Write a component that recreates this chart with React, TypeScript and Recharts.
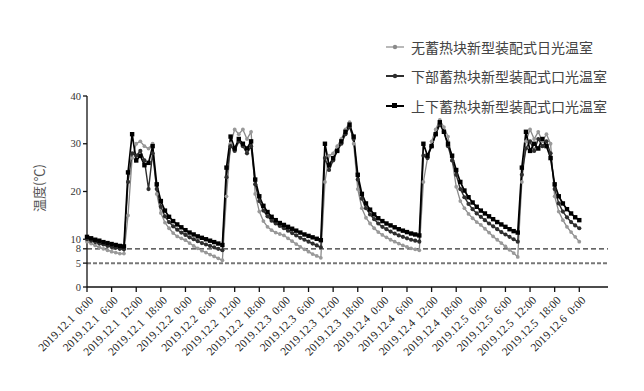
import React from 'react';
import { LineChart, Line, XAxis, YAxis, ReferenceLine, Legend } from 'recharts';

// 2019.12.1 0:00 - 2019.12.6 0:00, hourly readings (°C)
const tickLabels = [
  '2019.12.1  0:00', '2019.12.1  6:00', '2019.12.1  12:00', '2019.12.1  18:00',
  '2019.12.2  0:00', '2019.12.2  6:00', '2019.12.2  12:00', '2019.12.2  18:00',
  '2019.12.3  0:00', '2019.12.3  6:00', '2019.12.3  12:00', '2019.12.3  18:00',
  '2019.12.4  0:00', '2019.12.4  6:00', '2019.12.4  12:00', '2019.12.4  18:00',
  '2019.12.5  0:00', '2019.12.5  6:00', '2019.12.5  12:00', '2019.12.5  18:00',
  '2019.12.6  0:00',
];

const noStorage = [
  9.5, 9.1, 8.7, 8.3, 8.0, 7.7, 7.4, 7.2, 7.0, 7.0, 15.0, 27.0, 30.0, 30.5, 29.5, 29.0, 30.0, 19.5, 15.5, 13.5, 12.3, 11.3, 10.6, 10.2,
  9.8, 9.2, 8.6, 8.1, 7.6, 7.2, 6.8, 6.4, 6.0, 5.6, 19.0, 30.0, 33.0, 32.0, 33.0, 31.0, 32.5, 19.5, 15.8, 13.8, 12.6, 11.9, 11.4, 11.1,
  10.8, 10.2, 9.6, 9.0, 8.4, 7.9, 7.4, 6.9, 6.5, 6.1, 22.0, 27.5, 28.0, 29.5, 31.0, 33.0, 34.5, 30.0, 20.5, 16.5, 14.5, 13.3, 12.3, 11.5,
  10.9, 10.4, 9.9, 9.5, 9.1, 8.7, 8.4, 8.1, 7.9, 7.7, 22.0, 27.0, 30.5, 33.0, 35.0, 33.5, 31.5, 26.5, 21.0, 18.0, 16.5, 15.3, 14.4, 13.6,
  13.0, 12.2, 11.4, 10.6, 9.9, 9.2, 8.5, 7.8, 7.1, 6.3, 22.0, 30.5, 33.0, 31.0, 32.5, 30.5, 32.0, 30.0, 19.0, 15.8, 14.0, 12.6, 11.5, 10.5, 9.5,
];

const bottomStorage = [
  10.0, 9.7, 9.4, 9.1, 8.9, 8.6, 8.4, 8.2, 8.0, 7.9, 22.0, 28.0, 27.5, 28.5, 26.5, 20.5, 28.0, 20.5, 16.8, 14.8, 13.6, 12.7, 12.0, 11.4,
  10.9, 10.4, 10.0, 9.6, 9.2, 8.9, 8.6, 8.3, 8.0, 7.7, 23.0, 29.5, 28.5, 30.5, 29.5, 28.0, 29.5, 21.5, 18.0, 16.0, 14.8, 13.9, 13.3, 12.8,
  12.3, 11.8, 11.3, 10.8, 10.3, 9.9, 9.5, 9.1, 8.7, 8.3, 27.0, 24.5, 26.5, 28.5, 30.0, 32.0, 33.5, 31.0, 22.5, 18.5, 16.5, 15.2, 14.2, 13.3,
  12.6, 12.1, 11.6, 11.2, 10.8, 10.5, 10.2, 9.9, 9.7, 9.5, 27.5, 27.0, 29.5, 32.0, 34.0, 32.5, 29.5, 26.5, 23.5, 20.5, 18.8, 17.4, 16.3, 15.4,
  14.7, 14.0, 13.3, 12.7, 12.1, 11.5, 11.0, 10.5, 10.0, 9.5, 23.5, 29.0, 30.5, 28.5, 31.0, 29.5, 30.5, 28.0, 20.5, 17.5, 15.8, 14.6, 13.6, 12.9, 12.3,
];

const fullStorage = [
  10.5, 10.2, 9.9, 9.7, 9.4, 9.2, 9.0, 8.8, 8.6, 8.5, 24.0, 32.0, 26.5, 27.5, 25.5, 26.0, 29.5, 21.5, 18.0, 16.0, 14.7, 13.8, 13.1, 12.5,
  11.9, 11.4, 11.0, 10.6, 10.3, 10.0, 9.7, 9.4, 9.1, 8.8, 25.0, 31.5, 29.0, 31.0, 30.0, 29.0, 30.5, 22.5, 19.0, 17.0, 15.7, 14.7, 14.0, 13.4,
  13.0, 12.6, 12.2, 11.8, 11.4, 11.0, 10.7, 10.4, 10.1, 9.8, 30.0, 25.5, 27.0, 28.5, 30.5, 32.5, 34.0, 31.5, 23.5, 19.5, 17.5, 16.2, 15.2, 14.4,
  13.8, 13.3, 12.9, 12.5, 12.1, 11.8, 11.5, 11.2, 11.0, 10.8, 30.0, 27.5, 29.5, 32.0, 34.5, 32.5, 30.0, 27.5, 24.5, 22.0, 20.2, 18.8, 17.7, 16.8,
  16.0, 15.4, 14.8, 14.2, 13.6, 13.1, 12.6, 12.1, 11.7, 11.4, 25.0, 32.5, 28.5, 30.0, 29.0, 31.0, 29.5, 27.0, 21.5, 19.0, 17.5, 16.3, 15.4, 14.6, 14.0,
];

const yTicks = [0, 5, 8, 10, 20, 30, 40];
const seriesNames = [
  '无蓄热块新型装配式日光温室',
  '下部蓄热块新型装配式口光温室',
  '上下蓄热块新型装配式口光温室',
];

const data = noStorage.map((v, i) => ({
  hour: i,
  a: v,
  b: bottomStorage[i],
  c: fullStorage[i],
}));

const xTicks = tickLabels.map((_, i) => i * 6);

const serif = '"Liberation Serif", "DejaVu Serif", serif';
const cjk = '"Noto Sans CJK SC", sans-serif';

const GrayDot = (props: any) => {
  const { cx, cy } = props;
  if (cx == null || cy == null) return null;
  return <circle cx={cx} cy={cy} r={1.9} fill="#999" stroke="none" />;
};

const DarkDot = (props: any) => {
  const { cx, cy } = props;
  if (cx == null || cy == null) return null;
  return <circle cx={cx} cy={cy} r={2.1} fill="#2e2e2e" stroke="none" />;
};

const SquareDot = (props: any) => {
  const { cx, cy } = props;
  if (cx == null || cy == null) return null;
  return <rect x={cx - 2.2} y={cy - 2.2} width={4.4} height={4.4} fill="#000" />;
};

const XTick = (props: any) => {
  const { x, y, payload } = props;
  const ax = x + 7;
  const ay = y + 7;
  return (
    <text
      x={ax}
      y={ay}
      transform={`rotate(-45 ${ax} ${ay})`}
      textAnchor="end"
      fontSize={11.5}
      fill="#222"
      style={{ whiteSpace: 'pre', fontFamily: serif }}
    >
      {tickLabels[Math.round(payload.value / 6)]}
    </text>
  );
};

const YTick = (props: any) => {
  const { x, y, payload } = props;
  return (
    <text
      x={x}
      y={y}
      dy={3.5}
      textAnchor="end"
      fontSize={10.5}
      fill="#333"
      style={{ fontFamily: serif }}
    >
      {payload.value}
    </text>
  );
};

const legendStyles = [
  { color: '#8a8a8a', marker: 'circle' },
  { color: '#2e2e2e', marker: 'dot' },
  { color: '#000', marker: 'square' },
];

const LegendContent = () => (
  <div>
    {seriesNames.map((name, i) => (
      <div key={name} style={{ display: 'flex', alignItems: 'center', height: 29.5 }}>
        <svg width={24} height={10} style={{ marginRight: 3 }}>
          <line x1={2} y1={5} x2={20} y2={5} stroke={legendStyles[i].color} strokeWidth={i === 0 ? 1.2 : 2} />
          {legendStyles[i].marker === 'square' ? (
            <rect x={8} y={2} width={5} height={5} fill="#000" />
          ) : (
            <circle cx={11} cy={5} r={2.2} fill={legendStyles[i].color} />
          )}
        </svg>
        <span style={{ fontFamily: cjk, fontSize: 14, color: '#444', whiteSpace: 'nowrap' }}>{name}</span>
      </div>
    ))}
  </div>
);

export default function App() {
  return (
    <div style={{ position: 'absolute', left: 0, top: 0, background: '#fff' }}>
      <LineChart width={644} height={391} data={data} margin={{ top: 96, right: 36, left: 0, bottom: 0 }}>
        <XAxis
          dataKey="hour"
          type="number"
          domain={[0, 127]}
          ticks={xTicks}
          interval={0}
          height={104}
          tick={<XTick />}
          tickSize={5}
          stroke="#111"
          strokeWidth={1.3}
          tickLine={{ stroke: '#111' }}
        />
        <YAxis
          type="number"
          domain={[0, 40]}
          ticks={yTicks}
          interval={0}
          width={87}
          tickSize={4}
          stroke="#111"
          strokeWidth={1.3}
          tick={<YTick />}
          label={{
            content: () => (
              <text
                x={44}
                y={188}
                transform="rotate(-90 44 188)"
                textAnchor="middle"
                fontSize={13}
                fill="#555"
                style={{ fontFamily: cjk }}
              >
                温度(℃)
              </text>
            ),
          }}
        />
        <ReferenceLine y={8} stroke="#333" strokeWidth={1.3} strokeDasharray="5 3" />
        <ReferenceLine y={5} stroke="#777" strokeWidth={2} strokeDasharray="4 2" />
        <Legend
          layout="vertical"
          align="center"
          verticalAlign="middle"
          content={<LegendContent />}
          wrapperStyle={{ left: 384, top: 32, width: 260 }}
        />
        <Line
          dataKey="a"
          name={seriesNames[0]}
          stroke="#8a8a8a"
          strokeWidth={1.3}
          dot={<GrayDot />}
          activeDot={false}
          isAnimationActive={false}
        />
        <Line
          dataKey="b"
          name={seriesNames[1]}
          stroke="#2e2e2e"
          strokeWidth={1.4}
          dot={<DarkDot />}
          activeDot={false}
          isAnimationActive={false}
        />
        <Line
          dataKey="c"
          name={seriesNames[2]}
          stroke="#000"
          strokeWidth={1.7}
          dot={<SquareDot />}
          activeDot={false}
          isAnimationActive={false}
        />
      </LineChart>
    </div>
  );
}
